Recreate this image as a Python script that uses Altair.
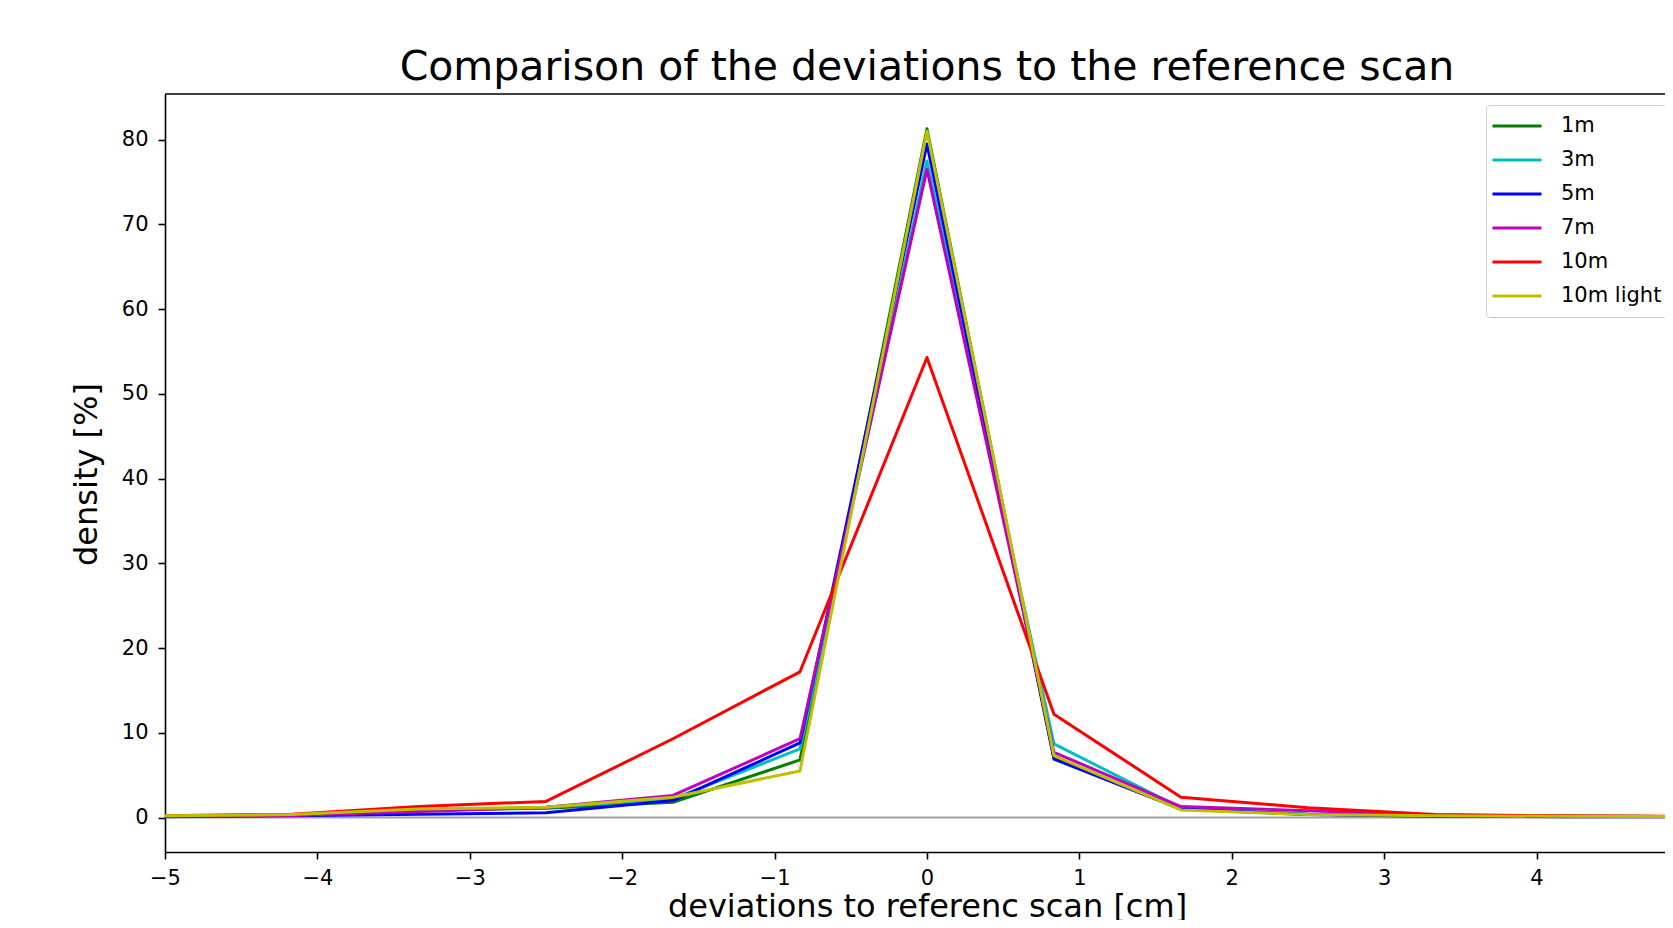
import altair as alt
import pandas as pd

FONT = "DejaVu Sans"

x_vals = [-5.0, -4.1667, -3.3333, -2.5, -1.6667, -0.8333, 0.0, 0.8333, 1.6667, 2.5, 3.3333, 4.1667, 5.0]
series_names = ["1m", "3m", "5m", "7m", "10m", "10m light"]
series_colors = ["#008000", "#00bfbf", "#0000ff", "#bf00bf", "#ff0000", "#bfbf00"]

d_1m = [0.15, 0.3, 0.9, 1.1, 1.8, 6.8, 81.3, 7.0, 1.0, 0.4, 0.2, 0.15, 0.1]
d_3m = [0.15, 0.25, 0.8, 1.2, 2.2, 8.1, 77.5, 8.7, 1.1, 0.4, 0.2, 0.15, 0.1]
d_5m = [0.1, 0.2, 0.4, 0.55, 2.0, 8.8, 79.5, 6.9, 1.0, 0.35, 0.15, 0.1, 0.1]
d_7m = [0.15, 0.25, 0.7, 1.2, 2.6, 9.3, 76.5, 7.7, 1.3, 0.8, 0.3, 0.15, 0.1]
d_10m = [0.2, 0.4, 1.3, 1.9, 9.3, 17.2, 54.3, 12.2, 2.4, 1.15, 0.35, 0.2, 0.15]
d_10m_light = [0.2, 0.35, 1.0, 1.2, 2.4, 5.5, 81.0, 7.3, 0.9, 0.35, 0.2, 0.15, 0.1]

x_ticks = [-5, -4, -3, -2, -1, 0, 1, 2, 3, 4]
y_ticks = [0, 10, 20, 30, 40, 50, 60, 70, 80]

title_text = "Comparison of the deviations to the reference scan"
x_title = "deviations to referenc scan [cm]"
y_title = "density [%]"

series_data = [d_1m, d_3m, d_5m, d_7m, d_10m, d_10m_light]
rows = []
for name, vals in zip(series_names, series_data):
    for xv, yv in zip(x_vals, vals):
        rows.append({"x": xv, "density": yv, "series": name})
df = pd.DataFrame(rows)

X_MIN, X_MAX = -5, 4.843
Y_MIN, Y_MAX = -4.07, 85.4
x_scale = alt.Scale(domain=[X_MIN, X_MAX], nice=False, zero=False)
y_scale = alt.Scale(domain=[Y_MIN, Y_MAX], nice=False, zero=False)

x_axis = alt.Axis(
    values=x_ticks, format="d", title=x_title, grid=False,
    domain=True, domainColor="black", domainWidth=1.6,
    titleFont=FONT, titleFontSize=32, titleFontWeight="normal", titleColor="black",
    titleX=762, titleY=64, titleBaseline="alphabetic", titleAlign="center",
    labelFont=FONT, labelFontSize=21, labelColor="black", labelBaseline="alphabetic",
    labelPadding=25, labelFlush=False, labelOverlap=False,
    tickSize=7, tickColor="black", tickWidth=1.6,
)
y_axis = alt.Axis(
    values=y_ticks, format="d", title=y_title, grid=False,
    domain=True, domainColor="black", domainWidth=1.6,
    titleFont=FONT, titleFontSize=32, titleFontWeight="normal", titleColor="black",
    titleX=-69, titleY=380, titleAngle=270, titleBaseline="alphabetic", titleAlign="center",
    labelFont=FONT, labelFontSize=21, labelColor="black", labelBaseline="middle",
    labelPadding=10, labelFlush=False, labelOverlap=False,
    tickSize=7, tickColor="black", tickWidth=1.6,
)

zero_rule = alt.Chart(pd.DataFrame({"z": [0]})).mark_rule(
    color="#a0a0a0", strokeWidth=2
).encode(y=alt.datum(0, scale=y_scale))

top_border = alt.Chart(pd.DataFrame({"z": [0]})).mark_rule(
    color="black", strokeWidth=1.6
).encode(y=alt.datum(Y_MAX))

lines = alt.Chart(df).mark_line(strokeWidth=3, clip=True, strokeJoin="round").encode(
    x=alt.X("x:Q", scale=x_scale, axis=x_axis),
    y=alt.Y("density:Q", scale=y_scale, axis=y_axis),
    color=alt.Color(
        "series:N",
        scale=alt.Scale(domain=series_names, range=series_colors),
        legend=alt.Legend(
            title=None, orient="none", legendX=1321, legendY=11,
            symbolType="stroke", symbolSize=2401, symbolStrokeWidth=3,
            labelFont=FONT, labelFontSize=21, labelColor="black",
            fillColor="white", strokeColor="#cccccc", cornerRadius=4,
            padding=5, clipHeight=32, rowPadding=2, labelOffset=18,
            labelExpr="datum.label + '    '",
        ),
    ),
)

title_mark = alt.Chart(pd.DataFrame({"t": [title_text]})).mark_text(
    font=FONT, fontSize=41, color="black", align="center", baseline="alphabetic"
).encode(x=alt.datum(0), y=alt.value(-14), text="t:N")

chart = alt.layer(zero_rule, top_border, lines, title_mark).properties(
    width=1500,
    height=758,
    autosize=alt.AutoSizeParams(type="none"),
    padding={"left": 157, "top": 86, "right": 0, "bottom": 68},
    background="white",
).configure_view(strokeWidth=0)

chart.save("out.html", embed_options={"renderer": "svg", "actions": False})
